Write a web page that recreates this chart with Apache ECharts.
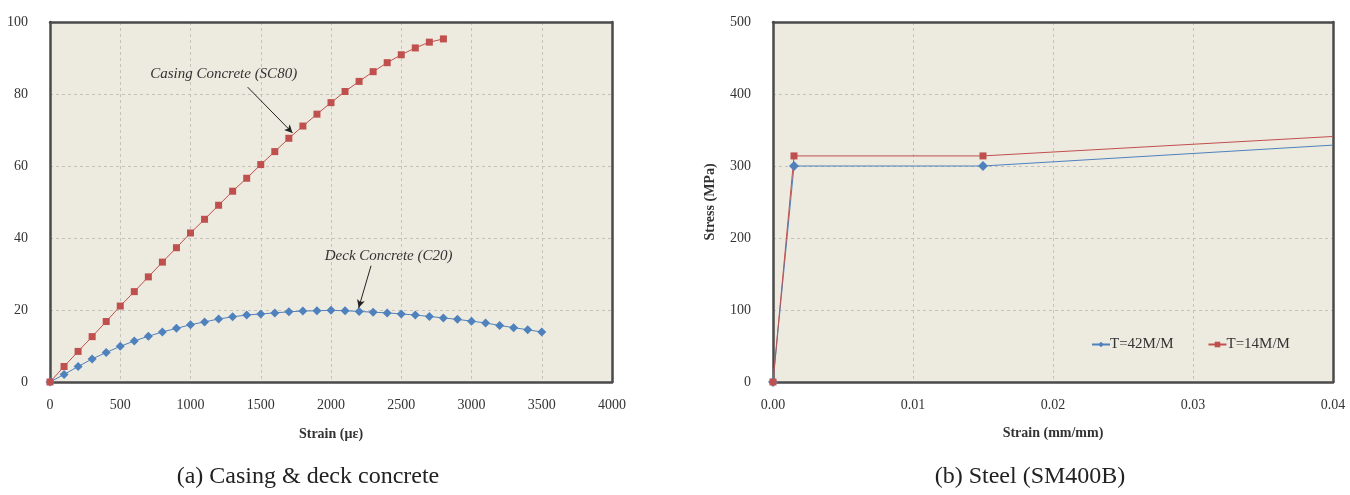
<!DOCTYPE html>
<html>
<head>
<meta charset="utf-8">
<script src="https://cdn.jsdelivr.net/npm/echarts@6/dist/echarts.min.js"></script>
<style>
html,body{margin:0;padding:0;background:#fff;}
#chart{width:1350px;height:495px;}
</style>
</head>
<body>
<div id="chart"></div>
<script>
// ---- Data (a) Casing & deck concrete ----
const casingStrain = [0,100,200,300,400,500,600,700,800,900,1000,1100,1200,1300,1400,1500,1600,1700,1800,1900,2000,2100,2200,2300,2400,2500,2600,2700,2800];
const casingStress = [0,4.3,8.5,12.6,16.8,21.1,25.1,29.2,33.3,37.3,41.4,45.2,49.1,53.0,56.6,60.4,64.0,67.7,71.1,74.4,77.6,80.7,83.5,86.2,88.7,90.9,92.8,94.4,95.3];
const deckStrain = [0,100,200,300,400,500,600,700,800,900,1000,1100,1200,1300,1400,1500,1600,1700,1800,1900,2000,2100,2200,2300,2400,2500,2600,2700,2800,2900,3000,3100,3200,3300,3400,3500];
const deckStress = [0,2.1,4.3,6.4,8.2,9.9,11.4,12.7,13.9,14.9,15.9,16.7,17.5,18.1,18.6,18.9,19.2,19.5,19.7,19.8,19.9,19.8,19.6,19.4,19.2,18.9,18.6,18.2,17.8,17.4,16.9,16.4,15.7,15.1,14.5,13.9];

// ---- Data (b) Steel (SM400B) ----
const steelStrain = [0, 0.0015, 0.015, 0.04];
const stressT42 = [0, 300, 300, 329];
const stressT14 = [0, 314, 314, 341];

// ---- Labels ----
const seriesNames = ['T=42M/M', 'T=14M/M'];
const captionA = '(a) Casing & deck concrete';
const captionB = '(b) Steel (SM400B)';
const casingLabel = 'Casing Concrete (SC80)';
const deckLabel = 'Deck Concrete (C20)';
// annotation anchors in data units [strain, stress]
const casingLabelAt = [1236, 85.6];
const casingArrow = [[1407, 81.9], [1726, 69.2]];
const deckLabelAt = [2410, 35.1];
const deckArrow = [[2285, 32.3], [2197, 20.6]];

const RED = '#C0504D', BLUE = '#4F81BD';
const SERIF = '"Liberation Serif", "DejaVu Serif", serif';
const txt = '#333';
const FRAME = '#4a4a4a';

function pts(xs, ys) { return xs.map((x, i) => [x, ys[i]]); }
function steelPts(xs, ys) {
  return xs.map((x, i) => i === xs.length - 1 ? {value: [x, ys[i]], symbol: 'none'} : [x, ys[i]]);
}

const gridStyle = {show: true, backgroundColor: '#EDEAE0', borderWidth: 0};
const splitLine = {show: true, lineStyle: {color: '#c4c2bb', type: [3, 3], width: 1}};
const axisLabel = {fontFamily: SERIF, fontSize: 14, color: txt};
const frameLine = {show: true, onZero: false, lineStyle: {color: FRAME, width: 2.5}};

function annotation(textAt, text) {
  return {
    coord: textAt, symbol: 'circle', symbolSize: 1, itemStyle: {color: 'rgba(0,0,0,0)'},
    label: {show: true, position: 'inside', formatter: text, fontFamily: SERIF, fontStyle: 'italic', fontSize: 15, color: txt}
  };
}
function arrow(a) {
  return [{coord: a[0], symbol: 'none'}, {coord: a[1], symbol: 'arrow'}];
}
function frameAxis(gridIndex, position, min, max) {
  return {gridIndex: gridIndex, type: 'value', position: position, min: min, max: max,
          axisLine: frameLine, axisTick: {show: false}, axisLabel: {show: false}, splitLine: {show: false}};
}

const option = {
  animation: false,
  backgroundColor: '#fff',
  title: [
    {text: captionA, left: 303, top: 460, textAlign: 'center', textStyle: {fontFamily: SERIF, fontSize: 24, fontWeight: 'normal', color: '#222'}},
    {text: captionB, left: 1025, top: 460, textAlign: 'center', textStyle: {fontFamily: SERIF, fontSize: 24, fontWeight: 'normal', color: '#222'}}
  ],
  legend: {
    data: seriesNames,
    left: 1086, top: 332,
    itemWidth: 18, itemHeight: 7, itemGap: 34,
    textStyle: {fontFamily: SERIF, fontSize: 15, color: txt, padding: [0, 0, 0, -5]}
  },
  grid: [
    Object.assign({left: 50, right: 738, top: 22, bottom: 113}, gridStyle),
    Object.assign({left: 773, right: 17, top: 22, bottom: 113}, gridStyle)
  ],
  xAxis: [
    {gridIndex: 0, type: 'value', position: 'bottom', min: 0, max: 4000, interval: 500,
     name: 'Strain (\u03bc\u03b5)', nameLocation: 'middle', nameGap: 45,
     nameTextStyle: {fontFamily: SERIF, fontSize: 14, fontWeight: 'bold', color: txt},
     axisLine: frameLine, axisTick: {show: false},
     axisLabel: Object.assign({margin: 16, formatter: v => String(v)}, axisLabel), splitLine: splitLine},
    {gridIndex: 1, type: 'value', position: 'bottom', min: 0, max: 0.04, interval: 0.01,
     name: 'Strain (mm/mm)', nameLocation: 'middle', nameGap: 44,
     nameTextStyle: {fontFamily: SERIF, fontSize: 14, fontWeight: 'bold', color: txt},
     axisLine: frameLine, axisTick: {show: false},
     axisLabel: Object.assign({margin: 16, formatter: v => v.toFixed(2)}, axisLabel), splitLine: splitLine},
    frameAxis(0, 'top', 0, 4000),
    frameAxis(1, 'top', 0, 0.04)
  ],
  yAxis: [
    {gridIndex: 0, type: 'value', position: 'left', min: 0, max: 100, interval: 20,
     axisLine: frameLine, axisTick: {show: false}, axisLabel: Object.assign({margin: 22}, axisLabel), splitLine: splitLine},
    {gridIndex: 1, type: 'value', position: 'left', min: 0, max: 500, interval: 100,
     name: 'Stress (MPa)', nameLocation: 'middle', nameGap: 56,
     nameTextStyle: {fontFamily: SERIF, fontSize: 14, fontWeight: 'bold', color: txt},
     axisLine: frameLine, axisTick: {show: false}, axisLabel: Object.assign({margin: 22}, axisLabel), splitLine: splitLine},
    frameAxis(0, 'right', 0, 100),
    frameAxis(1, 'right', 0, 500)
  ],
  series: [
    {name: 'Deck Concrete (C20)', type: 'line', xAxisIndex: 0, yAxisIndex: 0, z: 3,
     data: pts(deckStrain, deckStress), symbol: 'diamond', symbolSize: 9, showAllSymbol: true,
     lineStyle: {color: BLUE, width: 1}, itemStyle: {color: BLUE},
     markPoint: {silent: true, data: [annotation(deckLabelAt, deckLabel)]},
     markLine: {silent: true, symbolSize: [6, 8], lineStyle: {color: '#222', width: 1, type: 'solid'}, label: {show: false},
                data: [arrow(deckArrow)]}},
    {name: 'Casing Concrete (SC80)', type: 'line', xAxisIndex: 0, yAxisIndex: 0, z: 3,
     data: pts(casingStrain, casingStress), symbol: 'rect', symbolSize: 7, showAllSymbol: true,
     lineStyle: {color: RED, width: 1}, itemStyle: {color: RED},
     markPoint: {silent: true, data: [annotation(casingLabelAt, casingLabel)]},
     markLine: {silent: true, symbolSize: [6, 8], lineStyle: {color: '#222', width: 1, type: 'solid'}, label: {show: false},
                data: [arrow(casingArrow)]}},
    {name: seriesNames[0], type: 'line', xAxisIndex: 1, yAxisIndex: 1, z: 3,
     data: steelPts(steelStrain, stressT42), symbol: 'diamond', symbolSize: 10,
     lineStyle: {color: BLUE, width: 1}, itemStyle: {color: BLUE}},
    {name: seriesNames[1], type: 'line', xAxisIndex: 1, yAxisIndex: 1, z: 3,
     data: steelPts(steelStrain, stressT14), symbol: 'rect', symbolSize: 7,
     lineStyle: {color: RED, width: 1}, itemStyle: {color: RED}}
  ]
};

const chart = echarts.init(document.getElementById('chart'), null, {renderer: 'canvas'});
chart.setOption(option);
</script>
</body>
</html>
